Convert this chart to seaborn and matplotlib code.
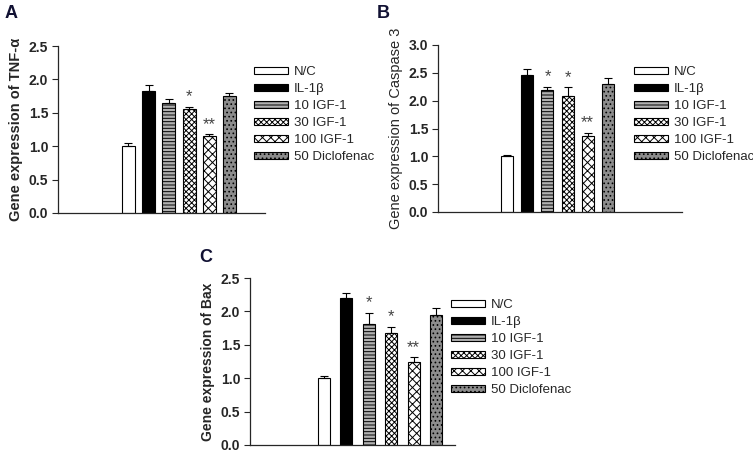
import numpy as np
import pandas as pd
import matplotlib
matplotlib.use("Agg")
import matplotlib.pyplot as plt
import matplotlib.patches as mpatches
import seaborn as sns

# data
groups = ["N/C", "IL-1\u03b2", "10 IGF-1", "30 IGF-1", "100 IGF-1", "50 Diclofenac"]
tnf_mean = [1.00, 1.83, 1.65, 1.56, 1.15, 1.75]
tnf_err = [0.05, 0.08, 0.05, 0.03, 0.03, 0.04]
tnf_stars = ["", "", "", "*", "**", ""]
casp_mean = [1.00, 2.46, 2.19, 2.09, 1.36, 2.30]
casp_err = [0.03, 0.10, 0.06, 0.15, 0.06, 0.10]
casp_stars = ["", "", "*", "*", "**", ""]
bax_mean = [1.00, 2.20, 1.81, 1.67, 1.25, 1.95]
bax_err = [0.03, 0.08, 0.17, 0.10, 0.06, 0.10]
bax_stars = ["", "", "*", "*", "**", ""]

facecols = ["white", "black", "#b0b0b0", "white", "white", "#8c8c8c"]
hatches = [None, None, "-----", "xxxxxx", "xxxx", "...."]

sns.set_style("ticks")
plt.rcParams["font.family"] = ["Liberation Sans", "DejaVu Sans"]
plt.rcParams["hatch.linewidth"] = 0.7

W, H = 753, 453
fig = plt.figure(figsize=(W / 100, H / 100), dpi=100)


def px_axes(left, right, top, bottom):
    return fig.add_axes([left / W, 1 - bottom / H, (right - left) / W, (bottom - top) / H])


def panel(ax, means, errs, stars, ylabel, ymax, xlim, width, label_weight="bold", label_size=10.5):
    df = pd.DataFrame({"group": groups, "value": means})
    sns.barplot(data=df, x="group", y="value", hue="group", palette=facecols,
                order=groups, hue_order=groups, legend=False, errorbar=None,
                width=width, edgecolor="black", linewidth=0.8, saturation=1, ax=ax)
    for cont, h in zip(ax.containers, hatches):
        for bar in cont:
            if h:
                bar.set_hatch(h)
    x = np.arange(len(groups))
    ax.errorbar(x, means, yerr=[np.zeros(len(errs)), errs], fmt="none",
                ecolor="black", elinewidth=0.8, capsize=3, capthick=0.8)
    for xi, m, e, s in zip(x, means, errs, stars):
        if s:
            ax.text(xi, m + e + 0.015 * ymax, s, ha="center", va="bottom",
                    fontsize=12, color="#444444")
    ax.set_xlim(*xlim)
    ax.set_ylim(0, ymax)
    ax.set_yticks(np.arange(0, ymax + 0.01, 0.5))
    ax.set_yticklabels([f"{v:.1f}" for v in np.arange(0, ymax + 0.01, 0.5)],
                       fontweight="bold", fontsize=10)
    ax.set_xticks([])
    ax.set_xlabel("")
    ax.set_ylabel(ylabel, fontweight=label_weight, fontsize=label_size, labelpad=4)
    ax.tick_params(axis="y", length=4, width=0.8, pad=3)
    sns.despine(ax=ax)
    for sp in ["left", "bottom"]:
        ax.spines[sp].set_linewidth(0.9)


def add_legend(x, y):
    handles = [mpatches.Patch(facecolor=c, edgecolor="black", hatch=h, linewidth=0.8, label=g)
               for c, h, g in zip(facecols, hatches, groups)]
    fig.legend(handles=handles, loc="upper left", bbox_to_anchor=(x / W, 1 - y / H),
               frameon=False, fontsize=9.5, handlelength=2.6, handleheight=0.45,
               handletextpad=0.45, labelspacing=0.38, borderpad=0, borderaxespad=0)


axA = px_axes(58, 265, 46, 213)
panel(axA, tnf_mean, tnf_err, tnf_stars, "Gene expression of TNF-\u03b1", 2.5, (-3.49, 6.76), 0.64)
add_legend(254, 66)

axB = px_axes(438, 682, 45, 212)
panel(axB, casp_mean, casp_err, casp_stars, "Gene expression of Caspase 3", 3.0, (-3.47, 8.72), 0.6,
      label_weight="normal", label_size=10.5)
add_legend(634, 66)

axC = px_axes(250, 455, 278, 445)
panel(axC, bax_mean, bax_err, bax_stars, "Gene expression of Bax", 2.5, (-3.30, 5.85), 0.54,
      label_size=10)
add_legend(451, 299)

for lab, (lx, ly) in zip("ABC", [(5, 5), (377, 5), (199, 249)]):
    fig.text(lx / W, 1 - ly / H, lab, fontsize=13, fontweight="bold",
             color="#111133", ha="left", va="top")

fig.savefig("out.png", dpi=100)
